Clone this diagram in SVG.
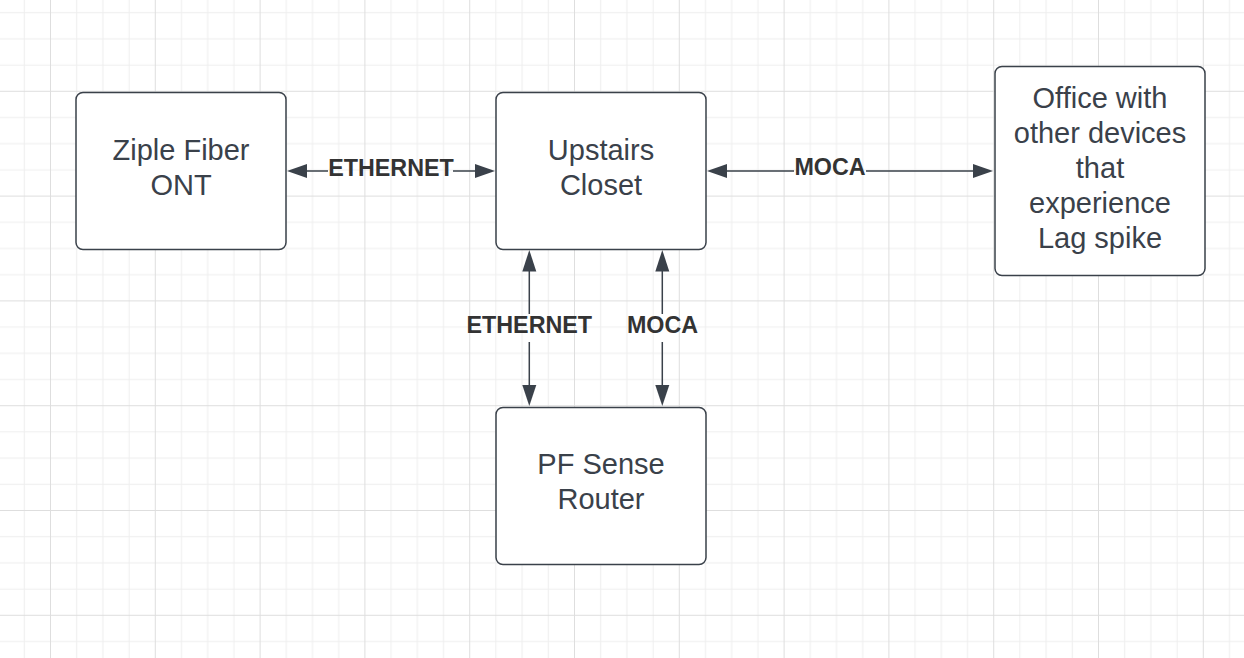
<svg xmlns="http://www.w3.org/2000/svg" width="1244" height="658" viewBox="0 0 1244 658">
  <style>
    .box { fill: #ffffff; stroke: #3a414a; stroke-width: 1.5; }
    .txt { font-family: "Liberation Sans", Arial, sans-serif; font-size: 29px; fill: #3a414a; text-anchor: middle; }
    .lbl { font-family: "Liberation Sans", Arial, sans-serif; font-size: 23.3px; font-weight: bold; fill: #333333; text-anchor: middle; }
    .ln { stroke: #3a414a; stroke-width: 1.5; fill: none; }
    .ah { fill: #3a414a; stroke: none; }
  </style>
  <defs>
    <pattern id="grid" patternUnits="userSpaceOnUse" x="50" y="90.8" width="104.8" height="104.8">
      <path d="M26.7 0V104.8M52.9 0V104.8M79.1 0V104.8M0 26.7H104.8M0 52.9H104.8M0 79.1H104.8" stroke="#eeeeee" stroke-width="1" fill="none"/>
      <path d="M0.5 0V104.8M0 0.5H104.8" stroke="#dedede" stroke-width="1" fill="none"/>
    </pattern>
  </defs>
  <rect x="0" y="0" width="1244" height="658" fill="#ffffff"/>
  <rect x="0" y="0" width="1244" height="658" fill="url(#grid)"/>

  <g id="connectors">
    <g id="conn-ethernet-h">
      <path class="ln" d="M305 171H328M453 171H476"/>
      <path class="ah" d="M287 171L307 164L307 178Z"/>
      <path class="ah" d="M495 171L475 164L475 178Z"/>
      <text class="lbl" x="391" y="175.5">ETHERNET</text>
    </g>
    <g id="conn-moca-h">
      <path class="ln" d="M725 171H794M866 171H975"/>
      <path class="ah" d="M707 171L727 164L727 178Z"/>
      <path class="ah" d="M993 171L973 164L973 178Z"/>
      <text class="lbl" x="830" y="175">MOCA</text>
    </g>
    <g id="conn-ethernet-v">
      <path class="ln" d="M529.3 270V314M529.3 342V387"/>
      <path class="ah" d="M529.3 250L522.3 271.5L536.3 271.5Z"/>
      <path class="ah" d="M529.3 406L522.3 385L536.3 385Z"/>
      <text class="lbl" x="529.3" y="332.8">ETHERNET</text>
    </g>
    <g id="conn-moca-v">
      <path class="ln" d="M662.3 270V314M662.3 342V387"/>
      <path class="ah" d="M662.3 250L655.3 271.5L669.3 271.5Z"/>
      <path class="ah" d="M662.3 406L655.3 385L669.3 385Z"/>
      <text class="lbl" x="662.5" y="332.8">MOCA</text>
    </g>
  </g>

  <g id="node-ziple">
    <rect class="box" x="76" y="92.5" width="210" height="157" rx="7"/>
    <text class="txt" x="181" y="159.5">Ziple Fiber</text>
    <text class="txt" x="181" y="194.5">ONT</text>
  </g>
  <g id="node-upstairs">
    <rect class="box" x="496" y="92.5" width="210" height="157" rx="7"/>
    <text class="txt" x="601" y="159.5">Upstairs</text>
    <text class="txt" x="601" y="194.5">Closet</text>
  </g>
  <g id="node-pfsense">
    <rect class="box" x="496" y="407.5" width="210" height="157" rx="7"/>
    <text class="txt" x="601" y="473.5">PF Sense</text>
    <text class="txt" x="601" y="508.5">Router</text>
  </g>
  <g id="node-office">
    <rect class="box" x="995" y="66.5" width="210" height="209" rx="7"/>
    <text class="txt" x="1100" y="108">Office with</text>
    <text class="txt" x="1100" y="143">other devices</text>
    <text class="txt" x="1100" y="178">that</text>
    <text class="txt" x="1100" y="213">experience</text>
    <text class="txt" x="1100" y="248">Lag spike</text>
  </g>
</svg>
